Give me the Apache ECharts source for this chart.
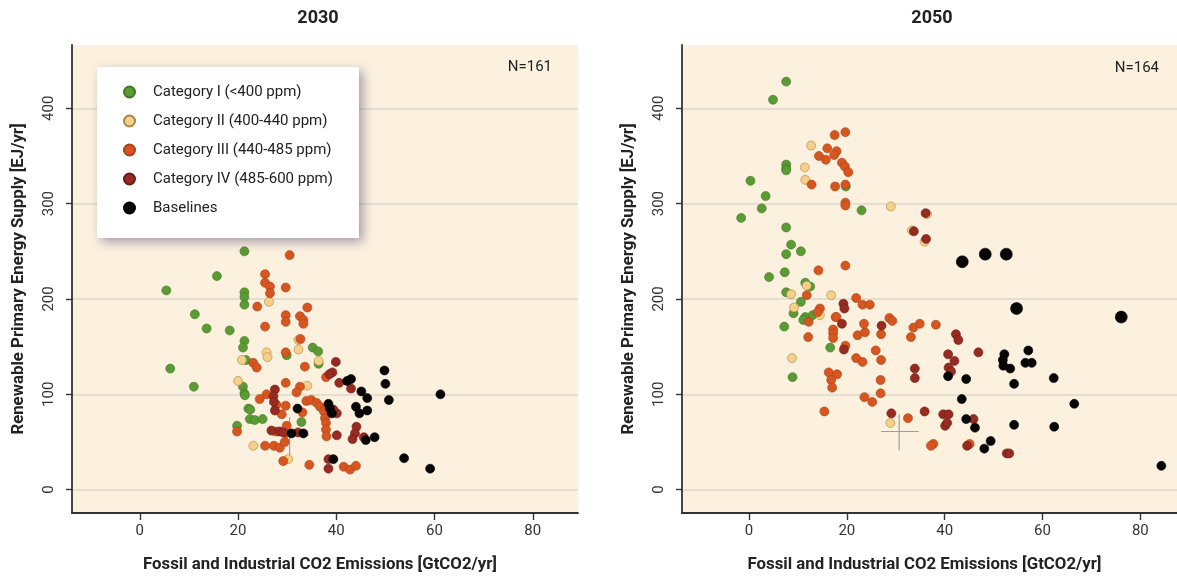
<!DOCTYPE html>
<html>
<head>
<meta charset="utf-8">
<script src="https://cdn.jsdelivr.net/npm/echarts@6/dist/echarts.min.js"></script>
<style>
  html, body { margin: 0; padding: 0; background: #ffffff; }
  #chart { width: 1177px; height: 578px; }
</style>
</head>
<body>
<div id="chart"></div>
<script>
// Renewable primary energy supply vs fossil & industrial CO2 emissions, 2030 and 2050 scenarios

const panelTitles = ['2030', '2050'];
const sampleCounts = ['N=161', 'N=164'];
const categoryNames = [
  'Category I (<400 ppm)',
  'Category II (400-440 ppm)',
  'Category III (440-485 ppm)',
  'Category IV (485-600 ppm)',
  'Baselines'
];
const xTickValues = [0, 20, 40, 60, 80];
const yTickValues = [0, 100, 200, 300, 400];
const xAxisTitle = 'Fossil and Industrial CO2 Emissions [GtCO2/yr]';
const yAxisTitle = 'Renewable Primary Energy Supply [EJ/yr]';

// ---- 2030 scenarios: [emissions GtCO2/yr, renewables EJ/yr]
const catI_2030 = [
  [21.3,250],[15.7,224],[5.4,209],[21.3,207],[21.3,202],[21.3,194],[11.2,184],[13.6,169],
  [18.3,167],[21.3,156],[21.0,149],[21.6,136],[6.2,127],[29.9,141],[35.2,149],[36.3,145],
  [36.4,132],[11.0,108],[21.0,108],[21.3,101],[21.4,99],[22.1,85],[22.5,84],[22.4,74],
  [23.4,73],[25.0,74],[19.8,67],[32.9,71]
];
const catII_2030 = [
  [26.3,197],[25.8,144],[26.0,139],[20.8,136],[32.3,157],[32.3,147],[36.4,135],[20.0,114],
  [34.1,109],[23.1,46],[30.2,32]
];
const catIII_2030 = [
  [30.5,246],[25.5,226],[25.5,217],[26.5,213],[26.5,206],[29.7,212],[23.9,192],[34.1,191],
  [29.7,183],[29.7,176],[32.6,182],[33.3,178],[33.3,174],[25.5,171],[32.7,158],[29.7,144],
  [23.1,133],[23.8,128],[33.6,129],[29.7,112],[37.9,118],[32.6,108],[31.9,102],[25.8,100],
  [24.4,95],[27.8,89],[29.7,88],[28.9,79],[33.1,81],[33.9,93],[34.9,94],[36.0,91],
  [36.7,87],[37.5,82],[37.7,75],[37.9,70],[37.9,63],[38.0,56],[29.9,67],[29.7,59],
  [19.8,61],[27.8,61],[25.5,46],[27.3,46],[28.5,44],[29.5,50],[29.2,30],[34.5,26],
  [41.5,24],[42.8,21],[44.0,25]
];
const catIV_2030 = [
  [39.9,134],[39.2,123],[38.6,121],[40.6,112],[43.0,106],[27.5,105],[27.2,98],[27.3,92],
  [27.5,83],[26.8,62],[28.5,61],[32.2,60],[40.1,80],[39.4,84],[44.1,66],[43.8,59],
  [43.3,53],[45.6,55],[38.4,32],[38.4,22],[40.1,57],[29.2,60]
];
const baseline_2030 = [
  [49.8,125],[50.0,111],[50.7,94],[61.2,100],[42.2,114],[43.0,116],[45.1,103],[46.3,96],
  [44.0,87],[44.7,80],[46.3,83],[38.4,90],[38.7,85],[39.1,80],[32.1,85],[30.9,59],
  [33.3,59],[46.0,52],[47.8,55],[39.4,32],[53.8,33],[59.1,22]
];
const baselineLarge_2030 = [];

// ---- 2050 scenarios
const catI_2050 = [
  [7.6,428],[4.9,409],[7.6,341],[7.6,337],[7.6,335],[0.3,324],[3.4,308],[2.6,295],
  [-1.6,285],[23.0,293],[7.6,275],[8.6,257],[7.6,247],[10.6,250],[7.3,228],[4.1,223],
  [7.6,207],[11.5,217],[12.5,213],[10.6,197],[9.1,185],[11.5,181],[13.0,183],[7.2,171],
  [16.6,149],[8.9,118],[19.8,318],[11.1,178]
];
const catII_2050 = [
  [12.7,361],[11.4,338],[11.5,325],[29.0,297],[36.4,289],[33.3,272],[35.9,260],[11.8,214],
  [8.6,205],[16.8,204],[9.2,191],[14.5,183],[8.8,138],[28.9,70]
];
const catIII_2050 = [
  [19.7,375],[17.5,372],[16.0,358],[17.9,355],[17.4,351],[14.3,350],[15.7,346],[19.0,343],
  [19.6,339],[20.3,333],[12.8,320],[17.6,318],[19.7,320],[19.7,301],[19.7,298],[14.2,230],
  [19.7,235],[11.8,204],[21.9,201],[23.2,194],[24.7,194],[14.5,190],[14.0,186],[12.2,176],
  [17.7,181],[17.2,168],[17.2,164],[17.2,159],[12.1,160],[22.2,162],[23.7,165],[23.5,174],
  [27.0,163],[28.7,180],[29.3,177],[33.6,170],[34.9,174],[38.2,173],[33.1,160],[19.7,151],
  [25.9,146],[21.9,138],[23.2,134],[27.0,136],[16.3,123],[18.0,121],[16.8,115],[17.0,107],
  [26.9,115],[26.9,101],[23.6,97],[25.2,92],[15.4,82],[32.5,75],[37.7,48],[37.2,46],
  [17.9,181],[45.1,48]
];
const catIV_2050 = [
  [36.1,290],[33.7,271],[36.2,263],[19.3,195],[19.5,190],[19.0,174],[27.1,172],[19.4,147],
  [33.9,127],[33.9,117],[29.1,80],[35.9,82],[42.3,163],[42.8,157],[46.9,144],[40.7,142],
  [42.0,135],[40.8,128],[41.3,124],[39.7,79],[40.8,79],[40.1,67],[40.5,70],[45.9,74],
  [52.7,38],[53.2,38],[44.6,46]
];
const baseline_2050 = [
  [57.1,146],[52.2,142],[51.9,136],[52.0,130],[53.4,127],[56.5,133],[57.8,133],[62.3,117],
  [54.2,111],[40.7,119],[44.4,116],[43.5,95],[66.5,90],[44.4,74],[46.2,65],[54.2,68],
  [62.4,66],[49.4,51],[48.1,43],[84.3,25]
];
// baselines drawn with a larger marker
const baselineLarge_2050 = [
  [43.6,239],[48.3,247],[52.6,247],[54.7,190],[76.1,181]
];

// Reference cross: [x, y, xLow, xHigh, yLow, yHigh]
const refCross_2030 = [[30.5, 57, 27.0, 34.4, 34, 76]];
const refCross_2050 = [[30.7, 61, 27.0, 34.7, 41, 79]];

const panels = [
  { cats: [catI_2030, catII_2030, catIII_2030, catIV_2030, baseline_2030], large: baselineLarge_2030, cross: refCross_2030 },
  { cats: [catI_2050, catII_2050, catIII_2050, catIV_2050, baseline_2050], large: baselineLarge_2050, cross: refCross_2050 }
];

const FONT = 'Roboto, "Liberation Sans", Arial, sans-serif';
const fills   = ['#5b9a34', '#f6cf88', '#d7561f', '#972a21', '#060606'];
const borders = ['#40791f', '#a7854c', '#a9401a', '#6c1b15', '#000000'];
const gridLineColor = '#ddd6cc';
const axisColor = '#333333';
const markerSize = 9;
const largeMarkerSize = 12;

const grids = [
  { left: 72, top: 45, width: 506, height: 473 },
  { left: 682, top: 45, width: 495, height: 473 }
];
const xRanges = [[-13.8, 89.2], [-13.7, 87.5]];
const yRange = [-24.5, 466.4];

const series = [];
panels.forEach((p, gi) => {
  // horizontal grid lines and the reference cross sit underneath the points
  series.push({
    type: 'custom',
    name: 'ref' + gi,
    xAxisIndex: gi, yAxisIndex: gi,
    z: 1,
    silent: true,
    encode: { x: [0, 2, 3], y: [1, 4, 5] },
    data: p.cross,
    renderItem: function (params, api) {
      const l = api.coord([api.value(2), api.value(1)]);
      const r = api.coord([api.value(3), api.value(1)]);
      const b = api.coord([api.value(0), api.value(4)]);
      const t = api.coord([api.value(0), api.value(5)]);
      const st = { stroke: '#9d9d9d', lineWidth: 1.2 };
      return { type: 'group', children: [
        { type: 'line', shape: { x1: l[0], y1: l[1], x2: r[0], y2: r[1] }, style: st },
        { type: 'line', shape: { x1: b[0], y1: b[1], x2: t[0], y2: t[1] }, style: st }
      ]};
    },
    markLine: {
      z: 0,
      silent: true,
      symbol: ['none', 'none'],
      label: { show: false },
      lineStyle: { color: gridLineColor, width: 1.6, type: 'solid' },
      data: yTickValues.map(v => ({ yAxis: v }))
    }
  });
  p.cats.forEach((d, ci) => {
    let data = d;
    if (ci === 4) {
      data = d.concat(p.large.map(v => ({ value: v, symbolSize: largeMarkerSize })));
    }
    series.push({
      type: 'scatter',
      name: categoryNames[ci],
      xAxisIndex: gi, yAxisIndex: gi,
      z: 2 + ci,
      symbol: 'circle',
      symbolSize: markerSize,
      itemStyle: { color: fills[ci], borderColor: borders[ci], borderWidth: 0.6, opacity: 1 },
      data: data
    });
  });
});

const option = {
  animation: false,
  backgroundColor: '#ffffff',
  textStyle: { fontFamily: FONT },
  grid: grids.map(g => Object.assign({ show: true, backgroundColor: '#fcf1df', borderWidth: 0 }, g)),
  xAxis: [0, 1].map(i => ({
    type: 'value', gridIndex: i,
    min: xRanges[i][0], max: xRanges[i][1],
    axisLine: { show: true, onZero: false, lineStyle: { color: axisColor, width: 1.8 } },
    axisTick: { show: true, length: 7, customValues: xTickValues, lineStyle: { color: axisColor, width: 1.4 } },
    axisLabel: { customValues: xTickValues, margin: 11, fontSize: 15, color: '#333', fontFamily: FONT },
    splitLine: { show: false },
    name: xAxisTitle, nameLocation: 'middle', nameGap: 43,
    nameTextStyle: { fontWeight: 'bold', fontSize: 16.8, color: '#222', fontFamily: FONT, padding: [0, 10, 0, 0] }
  })),
  yAxis: [0, 1].map(i => ({
    type: 'value', gridIndex: i,
    min: yRange[0], max: yRange[1],
    axisLine: { show: true, onZero: false, lineStyle: { color: axisColor, width: 1.8 } },
    axisTick: { show: true, length: 6, customValues: yTickValues, lineStyle: { color: axisColor, width: 1.4 } },
    axisLabel: { customValues: yTickValues, rotate: 90, margin: 15, fontSize: 15, color: '#333', fontFamily: FONT },
    splitLine: { show: false },
    name: yAxisTitle, nameLocation: 'middle', nameGap: 45, nameRotate: 90,
    nameTextStyle: { fontWeight: 'bold', fontSize: 16.8, color: '#222', fontFamily: FONT }
  })),
  legend: {
    z: 20,
    data: categoryNames,
    orient: 'vertical',
    left: 97, top: 67,
    icon: 'circle',
    itemWidth: 11, itemHeight: 11,
    itemGap: 13,
    padding: [17, 26, 22, 26],
    backgroundColor: '#ffffff',
    shadowColor: 'rgba(85, 75, 115, 0.5)',
    shadowBlur: 10,
    shadowOffsetX: 4,
    shadowOffsetY: 4,
    selectedMode: false,
    textStyle: { fontSize: 15, color: '#222', fontFamily: FONT, lineHeight: 16, padding: [0, 0, 0, 13] }
  },
  graphic: [
    { type: 'text', x: 318, y: 18, style: { text: panelTitles[0], fontSize: 18, fontWeight: 'bold', fontFamily: FONT, fill: '#222', align: 'center', verticalAlign: 'middle' } },
    { type: 'text', x: 932, y: 18, style: { text: panelTitles[1], fontSize: 18, fontWeight: 'bold', fontFamily: FONT, fill: '#222', align: 'center', verticalAlign: 'middle' } },
    { type: 'text', x: 552, y: 67, z: 10, style: { text: sampleCounts[0], fontSize: 15, fontFamily: FONT, fill: '#222', align: 'right', verticalAlign: 'middle' } },
    { type: 'text', x: 1159, y: 68, z: 10, style: { text: sampleCounts[1], fontSize: 15, fontFamily: FONT, fill: '#222', align: 'right', verticalAlign: 'middle' } }
  ],
  series: series
};

const chart = echarts.init(document.getElementById('chart'), null, { renderer: 'canvas' });
chart.setOption(option);
</script>
</body>
</html>
